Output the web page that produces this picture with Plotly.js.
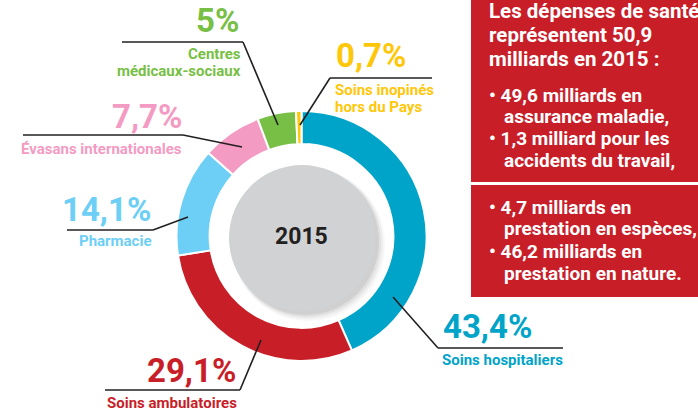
<!DOCTYPE html>
<html>
<head>
<meta charset="utf-8">
<script src="https://cdn.plot.ly/plotly-3.0.1.min.js"></script>
<style>html,body{margin:0;padding:0;background:#fff;}#chart{width:698px;height:412px;}</style>
</head>
<body>
<div id="chart"></div>
<script>
// ---- data ----
const categories = ['Soins hospitaliers', 'Soins ambulatoires', 'Pharmacie', 'Évasans internationales', 'Centres médicaux-sociaux', 'Soins inopinés hors du Pays'];
const values = [43.4, 29.1, 14.1, 7.7, 5, 0.7];
const labelLines = [['Soins hospitaliers'], ['Soins ambulatoires'], ['Pharmacie'], ['Évasans internationales'], ['Centres', 'médicaux-sociaux'], ['Soins inopinés', 'hors du Pays']];
const centerLabel = '2015';
const boxHeader = ['Les dépenses de santé', 'représentent 50,9', 'milliards en 2015 :'];
const boxBullets1 = [['49,6 milliards en', 'assurance maladie,'], ['1,3 milliard pour les', 'accidents du travail,']];
const boxBullets2 = [['4,7 milliards en', 'prestation en espèces,'], ['46,2 milliards en', 'prestation en nature.']];

// ---- style ----
const colors = ['#00a4c8', '#c81e28', '#6dcff6', '#f39bc2', '#77bf45', '#ffc709'];
const W = 698, H = 412;
const px = x => x / W;
const py = y => 1 - y / H;
const FONT = 'Roboto, "DejaVu Sans", sans-serif';

// label layout per slice (pixel positions): pct text anchor, label anchor, leader line points
const labelLayout = [
  {anchor: 'left',  px: 441, py: 326.5, ly: [360], lx: 440, line: [[393, 297], [438, 348], [563, 348]]},
  {anchor: 'right', px: 238, py: 370.5, ly: [402.5], lx: 238, line: [[261, 340], [240, 390], [105, 390]], labelAnchorLeft: 105},
  {anchor: 'right', px: 153, py: 209.5, ly: [241], lx: 154, line: [[188, 217], [153, 230], [67, 230]]},
  {anchor: 'right', px: 184, py: 116.5, ly: [148.5], lx: 184, line: [[242, 147], [183, 135], [23, 135]]},
  {anchor: 'right', px: 241, py: 20.5, ly: [54, 71.5], lx: 243, line: [[278, 125], [243, 42], [122, 42]]},
  {anchor: 'left',  px: 334, py: 56, ly: [90, 106.5], lx: 333, line: [[300, 125], [330, 78], [432, 78]]}
];

const pie = {
  type: 'pie',
  labels: categories,
  values: values,
  sort: false,
  direction: 'clockwise',
  rotation: 0,
  hole: 0.735,
  marker: {colors: colors, line: {color: '#ffffff', width: 2}},
  textinfo: 'none',
  hoverinfo: 'label+percent',
  showlegend: false,
  domain: {x: [px(176.5), px(426.5)], y: [py(361), py(111)]}
};

const shapes = [];
const annotations = [];

// red info boxes
shapes.push({type: 'rect', xref: 'paper', yref: 'paper', x0: px(471), x1: 1.02, y0: py(182), y1: 1.02, fillcolor: '#c81e28', line: {width: 0}, layer: 'below'});
shapes.push({type: 'rect', xref: 'paper', yref: 'paper', x0: px(471), x1: 1.02, y0: py(297), y1: py(185), fillcolor: '#c81e28', line: {width: 0}, layer: 'below'});

// center grey disc with soft shadow
const cx = 302, cy = 238, cr = 73;
const shadowSteps = [[10, 0.03], [8, 0.04], [6, 0.05], [4, 0.07]];
shadowSteps.forEach(([d, a]) => {
  shapes.push({type: 'circle', xref: 'paper', yref: 'paper',
    x0: px(cx - cr + 3), x1: px(cx + cr + d), y0: py(cy + cr + d), y1: py(cy - cr + 3),
    fillcolor: 'rgba(0,0,0,' + a + ')', line: {width: 0}});
});
shapes.push({type: 'circle', xref: 'paper', yref: 'paper',
  x0: px(cx - cr), x1: px(cx + cr), y0: py(cy + cr), y1: py(cy - cr),
  fillcolor: '#d1d2d4', line: {width: 0}});

annotations.push({xref: 'paper', yref: 'paper', x: px(301), y: py(236.5), xanchor: 'center', yanchor: 'middle',
  text: centerLabel, showarrow: false, font: {family: FONT, size: 23, color: '#231f20', weight: 700}});

// slice labels
values.forEach((v, i) => {
  const L = labelLayout[i];
  const pct = String(v).replace('.', ',') + '%';
  const c = colors[i];
  const pts = L.line;
  for (let k = 0; k < pts.length - 1; k++) {
    shapes.push({type: 'line', xref: 'paper', yref: 'paper',
      x0: px(pts[k][0]), y0: py(pts[k][1]), x1: px(pts[k + 1][0]), y1: py(pts[k + 1][1]),
      line: {color: '#231f20', width: 1.6}});
  }
  annotations.push({xref: 'paper', yref: 'paper', x: px(L.px), y: py(L.py), xanchor: L.anchor, yanchor: 'middle',
    text: pct, showarrow: false, font: {family: FONT, size: 33, color: c, weight: 700}});
  labelLines[i].forEach((t, j) => {
    let anchor = L.anchor, x = L.lx;
    if (L.labelAnchorLeft !== undefined) { anchor = 'left'; x = L.labelAnchorLeft; }
    annotations.push({xref: 'paper', yref: 'paper', x: px(x), y: py(L.ly[j]), xanchor: anchor, yanchor: 'middle',
      text: t, showarrow: false, font: {family: FONT, size: 15, color: c, weight: 700}});
  });
});

// info box text
const headFont = {family: FONT, size: 20.5, color: '#ffffff', weight: 700};
const boxFont = {family: FONT, size: 19, color: '#ffffff', weight: 700};
const headerY = [10.8, 34.8, 58.8];
boxHeader.forEach((t, i) => {
  annotations.push({xref: 'paper', yref: 'paper', x: px(487), y: py(headerY[i]), xanchor: 'left', yanchor: 'middle',
    text: t, showarrow: false, font: headFont});
});
function bullets(list, ys) {
  let k = 0;
  list.forEach(item => {
    item.forEach((t, j) => {
      annotations.push({xref: 'paper', yref: 'paper', x: px(j === 0 ? 487 : 502), y: py(ys[k]), xanchor: 'left', yanchor: 'middle',
        text: (j === 0 ? '• ' : '') + t, showarrow: false, font: boxFont});
      k++;
    });
  });
}
bullets(boxBullets1, [95, 116.5, 138.5, 160]);
bullets(boxBullets2, [207, 228.5, 251.5, 273]);

const layout = {
  width: W, height: H,
  margin: {l: 0, r: 0, t: 0, b: 0},
  paper_bgcolor: '#ffffff',
  plot_bgcolor: '#ffffff',
  showlegend: false,
  shapes: shapes,
  annotations: annotations
};

Plotly.newPlot('chart', [pie], layout, {displayModeBar: false, staticPlot: true});
</script>
</body>
</html>
